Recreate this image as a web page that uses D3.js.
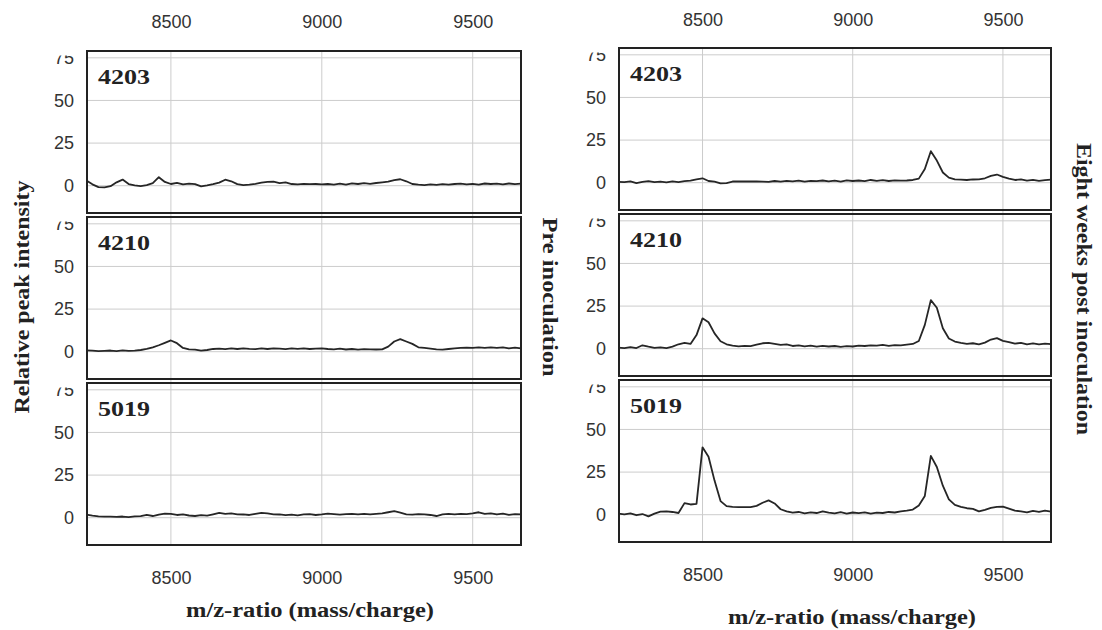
<!DOCTYPE html>
<html lang="en">
<head>
<meta charset="utf-8" />
<title>Relative peak intensity – pre and post inoculation</title>
<script src="https://cdn.jsdelivr.net/npm/d3@7"></script>
<style>
  body { margin: 0; background: #fff; overflow: hidden; }
  .tick text { fill: #333; }
  .ttl { font-family: "Liberation Serif", "DejaVu Serif", serif; font-weight: bold; fill: #222; }
</style>
</head>
<body>
<svg id="chart" width="1102" height="630"></svg>
<script>
// shared m/z grid (mass/charge)
const mz = [8220, 8240, 8260, 8280, 8300, 8320, 8340, 8360, 8380, 8400,
  8420, 8440, 8460, 8480, 8500, 8520, 8540, 8560, 8580, 8600,
  8620, 8640, 8660, 8680, 8700, 8720, 8740, 8760, 8780, 8800,
  8820, 8840, 8860, 8880, 8900, 8920, 8940, 8960, 8980, 9000,
  9020, 9040, 9060, 9080, 9100, 9120, 9140, 9160, 9180, 9200,
  9220, 9240, 9260, 9280, 9300, 9320, 9340, 9360, 9380, 9400,
  9420, 9440, 9460, 9480, 9500, 9520, 9540, 9560, 9580, 9600,
  9620, 9640, 9660];

const sampleIds = ["4203", "4210", "5019"];

// pre inoculation
const pre4203 = [3.0, 0.8, -0.8, -1.0, -0.3, 2.0, 3.6, 1.0, 0.2, -0.2,
  0.4, 1.5, 5.0, 2.2, 1.0, 1.6, 0.8, 1.2, 0.9, -0.4,
  0.2, 0.9, 1.8, 3.5, 2.6, 0.9, 0.3, 0.6, 1.1, 1.8,
  2.2, 2.4, 1.5, 1.9, 1.0, 0.8, 1.1, 0.9, 1.0, 0.8,
  1.0, 0.7, 1.2, 0.6, 1.4, 1.0, 1.5, 1.1, 1.6, 2.0,
  2.4, 3.3, 3.8, 2.6, 1.0, 0.6, 0.4, 0.8, 0.5, 0.9,
  0.6, 1.0, 1.2, 0.8, 1.1, 0.7, 1.3, 1.0, 1.2, 0.8,
  1.3, 0.9, 1.2];
const pre4210 = [0.8, 0.6, 0.3, 0.5, 0.7, 0.4, 0.8, 0.5, 0.6, 1.0,
  1.6, 2.6, 3.8, 5.2, 6.6, 5.0, 2.2, 1.4, 1.2, 0.6,
  1.0, 1.6, 1.8, 1.5, 1.9, 1.6, 2.0, 1.7, 1.5, 1.9,
  1.6, 2.0, 1.8, 1.5, 2.0, 1.7, 1.9, 1.6, 1.8, 1.9,
  1.6, 1.4, 1.8, 1.3, 1.6, 1.2, 1.5, 1.4, 1.3, 1.4,
  3.0, 6.0, 7.4, 6.0, 4.6, 2.6, 2.2, 1.8, 1.4, 1.2,
  1.6, 2.0, 2.3, 2.4, 2.2, 2.5, 2.3, 2.6, 2.2, 2.5,
  1.9, 2.4, 2.0];
const pre5019 = [1.8, 1.2, 0.8, 0.6, 0.6, 0.5, 0.7, 0.4, 0.8, 0.9,
  1.6, 1.0, 1.8, 2.4, 2.2, 1.6, 1.9, 1.3, 1.0, 1.5,
  1.2, 2.0, 2.8, 2.2, 2.5, 2.0, 1.9, 1.6, 2.2, 2.8,
  2.6, 2.0, 1.9, 1.5, 1.8, 1.4, 1.9, 2.1, 1.6, 1.9,
  2.4, 2.1, 1.8, 2.1, 2.3, 2.0, 2.2, 1.9, 2.3, 2.6,
  3.2, 3.8, 3.0, 2.0, 1.8, 2.1, 1.9, 1.6, 1.0, 1.9,
  2.2, 2.0, 2.3, 2.1, 2.6, 3.2, 2.3, 2.6, 1.9, 2.4,
  1.7, 2.1, 1.9];

// eight weeks post inoculation
const post4203 = [0.5, 0.3, 0.8, -0.2, 0.5, 0.9, 0.3, 0.7, 0.2, 0.8,
  0.4, 0.9, 1.2, 2.0, 2.6, 1.0, 0.6, -0.4, -0.2, 0.7,
  0.7, 0.7, 0.7, 0.7, 0.6, 0.5, 1.0, 0.7, 1.1, 0.8,
  1.2, 0.6, 1.1, 0.9, 1.3, 0.8, 1.2, 0.7, 1.4, 1.0,
  1.3, 0.9, 1.6, 1.1, 1.5, 1.0, 1.4, 1.2, 1.3, 1.6,
  2.4, 8.0, 18.5, 13.0, 6.0, 3.0, 2.0, 1.8, 1.6, 1.9,
  2.0, 2.6, 4.0, 4.8, 3.4, 2.4, 1.6, 1.9, 1.2, 1.7,
  1.1, 1.5, 1.8];
const post4210 = [0.6, 0.3, 0.9, 0.4, 2.0, 1.2, 0.5, 0.8, 0.3, 1.2,
  2.6, 3.4, 2.8, 8.0, 17.8, 15.5, 9.0, 4.4, 2.6, 1.8,
  1.4, 1.7, 1.5, 2.4, 3.2, 3.4, 2.8, 2.2, 2.6, 1.6,
  2.0, 1.4, 1.8, 1.2, 1.7, 1.3, 1.6, 1.1, 1.5, 1.3,
  1.8, 1.6, 2.0, 1.8, 2.2, 1.7, 2.1, 2.0, 2.4, 2.8,
  4.5, 14.0, 28.5, 24.0, 12.0, 6.0, 4.2, 3.4, 2.8, 3.2,
  2.6, 3.6, 5.4, 6.2, 4.6, 3.8, 3.0, 3.4, 2.6, 3.1,
  2.5, 3.0, 2.7];
const post5019 = [0.6, 0.2, 0.8, -0.3, 0.4, -1.0, 0.6, 1.8, 2.0, 1.6,
  1.0, 6.8, 6.0, 6.4, 39.5, 34.0, 20.0, 8.0, 5.0, 4.6,
  4.4, 4.5, 4.4, 5.2, 7.0, 8.4, 6.6, 3.2, 2.0, 1.2,
  1.6, 0.8, 1.4, 1.0, 2.0, 1.2, 0.8, 1.5, 0.6, 1.3,
  0.9, 1.4, 0.7, 1.2, 1.0, 1.6, 1.3, 2.0, 2.4, 3.0,
  5.4, 11.0, 34.5, 28.0, 17.0, 9.0, 5.8, 4.6, 3.8, 3.4,
  2.0, 2.8, 4.0, 4.6, 4.8, 3.6, 2.4, 2.0, 1.4, 2.2,
  1.6, 2.4, 1.8];

const xTicks = [8500, 9000, 9500];
const yTicks = [0, 25, 50, 75];
const xDomain = [8222, 9660];
const yDomain = [-16, 79];

const svg = d3.select("#chart");
const fontSans = "'Liberation Sans', Arial, sans-serif";
const panelH = 162, stride = 166;

const columns = [
  { x0: 87, x1: 521, top: 51, series: [pre4203, pre4210, pre5019],
    topTickY: 22, botTickY: 578, titleX: 310, titleY: 610 },
  { x0: 619, x1: 1051, top: 48, series: [post4203, post4210, post5019],
    topTickY: 20, botTickY: 575, titleX: 852, titleY: 617 }
];

columns.forEach((col, ci) => {
  const x = d3.scaleLinear().domain(xDomain).range([col.x0, col.x1]);
  const colTop = col.top, colBot = col.top + 2 * stride + panelH;

  // vertical grid through the whole column
  svg.append("g").selectAll("line").data(xTicks).join("line")
    .attr("x1", d => x(d)).attr("x2", d => x(d))
    .attr("y1", colTop).attr("y2", colBot)
    .attr("stroke", "#cccccc").attr("stroke-width", 1);

  // x tick labels top and bottom
  [col.topTickY, col.botTickY].forEach(ty => {
    const a = svg.append("g")
      .attr("transform", `translate(0,${ty})`)
      .call(d3.axisBottom(x).tickValues(xTicks).tickSize(0).tickPadding(0).tickFormat(d3.format("d")));
    a.select(".domain").remove();
    a.attr("font-family", fontSans).attr("font-size", 18);
    a.selectAll("text").attr("dy", "0.35em");
  });

  col.series.forEach((vals, pi) => {
    const top = col.top + pi * stride;
    const y = d3.scaleLinear().domain(yDomain).range([top + panelH, top]);
    const clipId = `clip-${ci}-${pi}`;
    svg.append("clipPath").attr("id", clipId).append("rect")
      .attr("x", 0).attr("y", top + 4.5).attr("width", col.x0).attr("height", panelH - 4.5);

    // horizontal grid
    svg.append("g").selectAll("line").data(yTicks).join("line")
      .attr("x1", col.x0).attr("x2", col.x1)
      .attr("y1", d => y(d)).attr("y2", d => y(d))
      .attr("stroke", "#cccccc").attr("stroke-width", 1);

    // y tick labels (top label cut by the frame, as in the original)
    const ya = svg.append("g")
      .attr("clip-path", `url(#${clipId})`)
      .append("g")
      .attr("transform", `translate(${col.x0},0)`)
      .call(d3.axisLeft(y).tickValues(yTicks).tickSize(0).tickPadding(13));
    ya.select(".domain").remove();
    ya.attr("font-family", fontSans).attr("font-size", 18);

    // spectrum
    const pts = mz.map((m, i) => ({ m: m, v: vals[i] }));
    svg.append("path").datum(pts)
      .attr("fill", "none").attr("stroke", "#262626").attr("stroke-width", 1.8)
      .attr("stroke-linejoin", "round")
      .attr("d", d3.line().x(d => x(d.m)).y(d => y(d.v)));

    // frame
    svg.append("rect")
      .attr("x", col.x0).attr("y", top)
      .attr("width", col.x1 - col.x0).attr("height", panelH)
      .attr("fill", "none").attr("stroke", "#222").attr("stroke-width", 2);

    svg.append("text").attr("class", "ttl")
      .attr("x", col.x0 + 11).attr("y", top + 33)
      .attr("font-size", 21)
      .attr("textLength", 52).attr("lengthAdjust", "spacingAndGlyphs")
      .text(sampleIds[pi]);
  });

  svg.append("text").attr("class", "ttl")
    .attr("x", col.titleX).attr("y", col.titleY)
    .attr("dy", "0.35em").attr("text-anchor", "middle")
    .attr("font-size", 20)
    .attr("textLength", 248).attr("lengthAdjust", "spacingAndGlyphs")
    .text("m/z-ratio (mass/charge)");
});

// side labels
function sideLabel(txt, cx, cy, rot, len) {
  svg.append("text").attr("class", "ttl")
    .attr("transform", `translate(${cx},${cy}) rotate(${rot})`)
    .attr("text-anchor", "middle").attr("dy", "0.35em")
    .attr("font-size", 20)
    .attr("textLength", len).attr("lengthAdjust", "spacingAndGlyphs")
    .text(txt);
}
sideLabel("Relative peak intensity", 22, 297, -90, 233);
sideLabel("Pre inoculation", 550, 297, 90, 159);
sideLabel("Eight weeks post inoculation", 1084, 289, 90, 292);
</script>
</body>
</html>
